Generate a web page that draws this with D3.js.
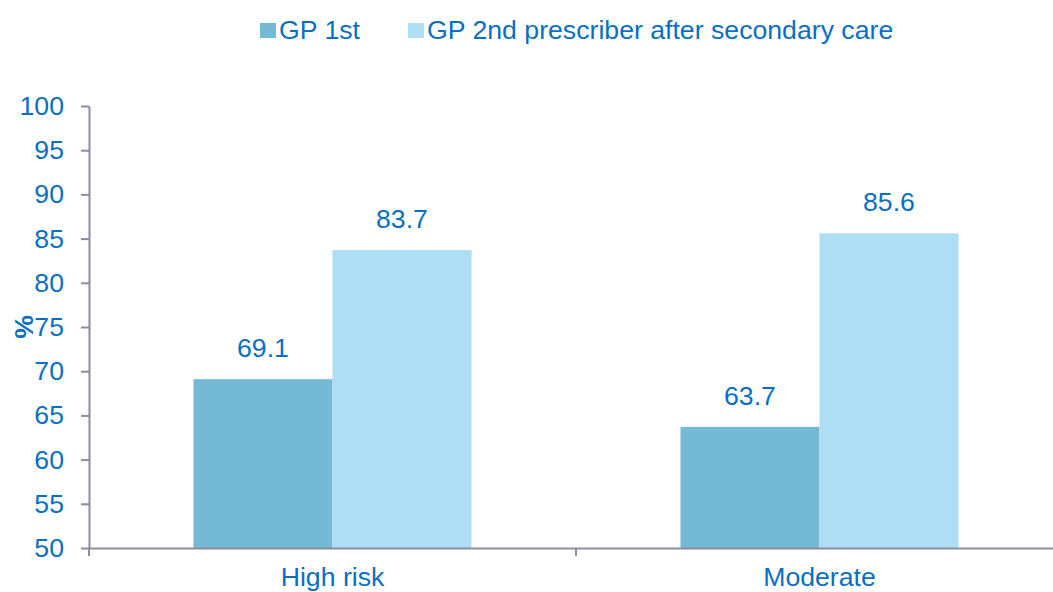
<!DOCTYPE html>
<html><head><meta charset="utf-8">
<script src="https://cdn.jsdelivr.net/npm/d3@7"></script>
<style>body{margin:0;background:#fff}svg{display:block}text{font-family:"Liberation Sans",Arial,sans-serif}</style>
</head><body><svg id="c" width="1053" height="592"></svg>
<script>
const categories = ["High risk", "Moderate"];
const seriesNames = ["GP 1st", "GP 2nd prescriber after secondary care"];
const gp1st = [69.1, 63.7];
const gp2nd = [83.7, 85.6];
const yTicks = [50, 55, 60, 65, 70, 75, 80, 85, 90, 95, 100];
const colors = ["#74BAD4", "#ADDEF3"];
const textColor = "#0a6fc2";
const axisColor = "#8c8ca0";
const fs = 26.67;

const svg = d3.select("#c");
const x = d3.scaleBand().domain(categories).range([89, 1063]).paddingInner(0).paddingOuter(0);
const y = d3.scaleLinear().domain([50, 100]).range([548, 106]);
const barW = 139;
const sub = d3.scaleBand().domain(seriesNames).range([0, barW * 2]);
const series = [gp1st, gp2nd];

// bars
series.forEach((vals, si) => {
  svg.selectAll(null).data(categories).enter().append("rect")
    .attr("x", (d) => x(d) + x.bandwidth() / 2 - barW + sub(seriesNames[si]))
    .attr("y", (d, i) => y(vals[i]))
    .attr("width", sub.bandwidth())
    .attr("height", (d, i) => y(50) - y(vals[i]))
    .attr("fill", colors[si]);
  svg.selectAll(null).data(categories).enter().append("text")
    .attr("x", (d) => x(d) + x.bandwidth() / 2 - barW + sub(seriesNames[si]) + sub.bandwidth() / 2)
    .attr("y", (d, i) => y(vals[i]) - 22)
    .attr("text-anchor", "middle")
    .attr("font-size", fs)
    .attr("fill", textColor)
    .text((d, i) => vals[i].toFixed(1));
});

// y axis
const yAxis = svg.append("g").attr("transform", "translate(89,0)")
  .call(d3.axisLeft(y).tickValues(yTicks).tickSize(8).tickPadding(17).tickSizeOuter(0));
yAxis.select(".domain").attr("stroke", axisColor).attr("stroke-width", 2);
yAxis.selectAll(".tick line").attr("stroke", axisColor).attr("stroke-width", 2);
yAxis.selectAll(".tick text").attr("font-size", fs).attr("fill", textColor)
  .attr("font-family", '"Liberation Sans",Arial,sans-serif');

// x axis
const xAxis = svg.append("g").attr("transform", "translate(0,548)")
  .call(d3.axisBottom(x).tickSize(0).tickPadding(19).tickSizeOuter(0));
xAxis.select(".domain").attr("stroke", axisColor).attr("stroke-width", 2);
xAxis.selectAll(".tick text").attr("font-size", fs).attr("fill", textColor)
  .attr("font-family", '"Liberation Sans",Arial,sans-serif');
// category separators
svg.selectAll(null).data(x.domain().slice(1)).enter().append("line")
  .attr("x1", (d) => x(d)).attr("x2", (d) => x(d))
  .attr("y1", 548).attr("y2", 556)
  .attr("stroke", axisColor).attr("stroke-width", 2);
svg.append("line").attr("x1", 89).attr("x2", 89).attr("y1", 548).attr("y2", 556)
  .attr("stroke", axisColor).attr("stroke-width", 2);

// y label
svg.append("text").attr("transform", "translate(33,327) rotate(-90)")
  .attr("text-anchor", "middle").attr("font-size", fs).attr("font-weight", "bold")
  .attr("fill", textColor).text("%");

// legend
const legX = [260, 408];
seriesNames.forEach((n, i) => {
  svg.append("rect").attr("x", legX[i]).attr("y", 23).attr("width", 16).attr("height", 15).attr("fill", colors[i]);
  svg.append("text").attr("x", legX[i] + 19).attr("y", 39).attr("font-size", fs)
    .attr("fill", textColor).text(n);
});
</script></body></html>
